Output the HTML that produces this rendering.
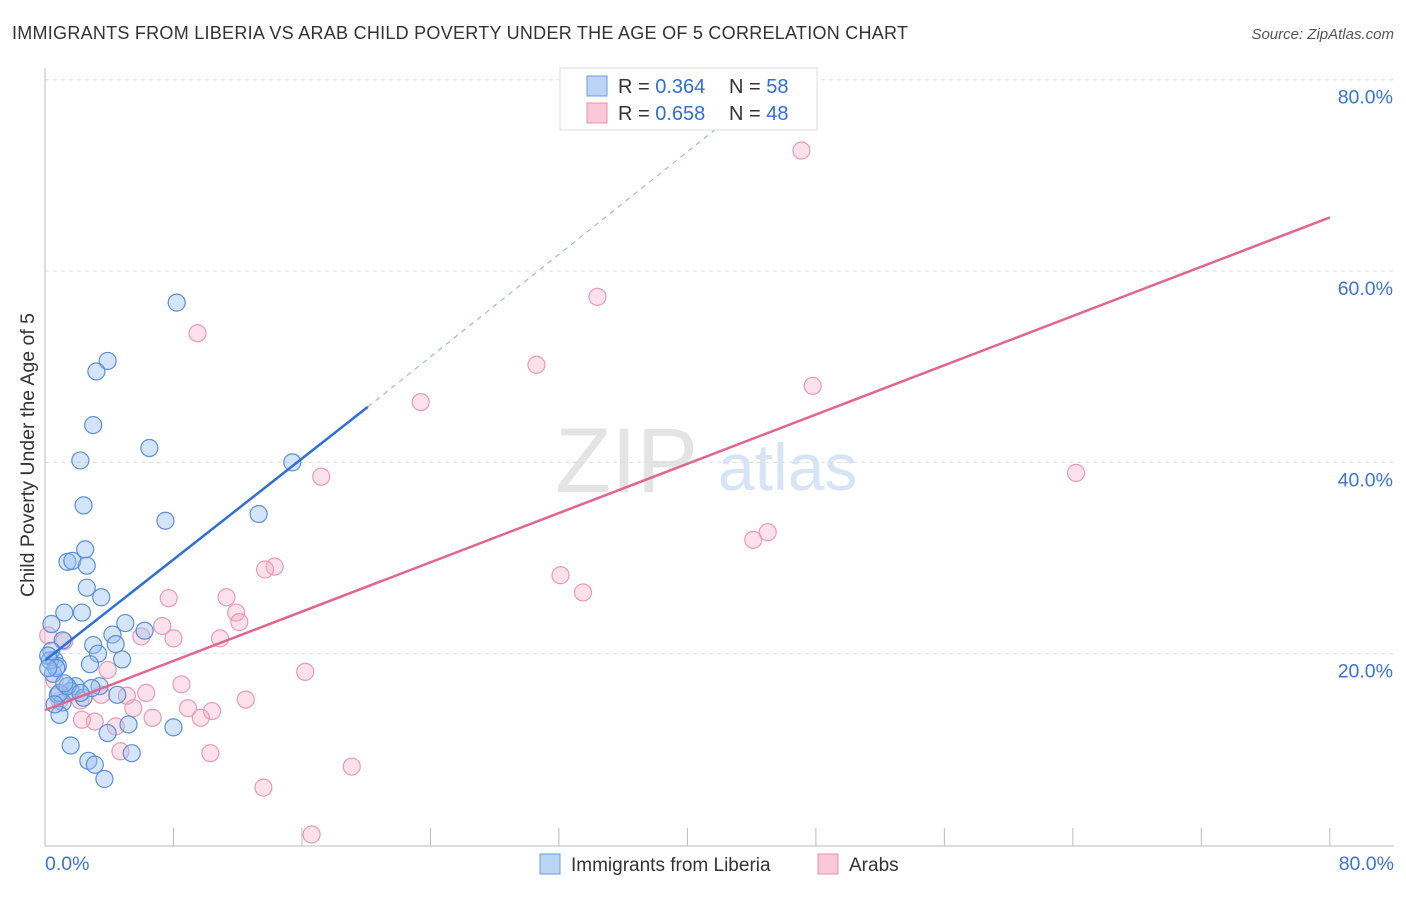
<!DOCTYPE html>
<html><head><meta charset="utf-8"><style>
body{margin:0;background:#fff;font-family:"Liberation Sans",sans-serif;}
svg text{font-family:"Liberation Sans",sans-serif;}
</style></head><body>
<svg id="chart" width="1406" height="892">
<text x="12" y="39" font-size="18" fill="#333" textLength="896">IMMIGRANTS FROM LIBERIA VS ARAB CHILD POVERTY UNDER THE AGE OF 5 CORRELATION CHART</text>
<text x="1394" y="39" font-size="15" fill="#555" text-anchor="end" font-style="italic">Source: ZipAtlas.com</text>
<text x="555" y="492" font-size="92" fill="#e4e4e4" font-family="Liberation Serif">ZIP</text>
<text x="718" y="490" font-size="66" fill="#d6e4f5">atlas</text>
<text transform="translate(34,455) rotate(-90)" font-size="19.5" fill="#333" text-anchor="middle">Child Poverty Under the Age of 5</text>
<g id="grid"></g><g id="marks"></g>
<g>
<rect x="560" y="68" width="257" height="62" fill="#fff" stroke="#ddd"/>
<rect x="587" y="76" width="20" height="20" fill="#bcd5f5" stroke="#6a9be0"/>
<rect x="587" y="103" width="20" height="20" fill="#f9c9d8" stroke="#e890ad"/>
<text x="618" y="93" font-size="20" fill="#333">R = <tspan fill="#2f6fd6">0.364</tspan></text>
<text x="729" y="93" font-size="20" fill="#333">N = <tspan fill="#2f6fd6">58</tspan></text>
<text x="618" y="120" font-size="20" fill="#333">R = <tspan fill="#2f6fd6">0.658</tspan></text>
<text x="729" y="120" font-size="20" fill="#333">N = <tspan fill="#2f6fd6">48</tspan></text>
</g>
<g>
<rect x="540" y="854" width="20" height="20" fill="#bcd5f5" stroke="#6a9be0"/>
<text x="571" y="871" font-size="19" fill="#333">Immigrants from Liberia</text>
<rect x="818" y="854" width="20" height="20" fill="#f9c9d8" stroke="#e890ad"/>
<text x="849" y="871" font-size="19" fill="#333">Arabs</text>
</g>
</svg>
<script>
const xTicks=[0,8,16,24,32,40,48,56,64,72,80];
const yTicks=[20,40,60,80];
const blueX=[8.2,3.9,3.2,3.0,6.5,2.2,2.4,7.5,13.3,15.4,2.5,1.4,1.7,2.6,2.6,3.5,1.2,2.3,0.4,5.0,4.2,6.2,1.1,3.0,4.4,3.3,0.4,0.6,0.8,4.8,2.8,0.5,1.9,3.4,1.6,0.8,4.5,2.4,1.1,0.9,5.2,8.0,3.9,1.6,5.4,2.7,3.1,3.7,0.3,0.2,0.9,1.4,2.9,0.7,0.2,2.2,1.2,0.6];
const blueY=[56.7,50.6,49.5,43.9,41.5,40.2,35.5,33.9,34.6,40.0,30.9,29.6,29.7,29.2,26.9,25.9,24.3,24.3,23.1,23.2,22.0,22.4,21.4,20.9,21.0,20.0,20.3,19.3,18.7,19.4,18.9,17.9,16.6,16.6,16.1,15.7,15.7,15.4,14.9,13.6,12.6,12.3,11.7,10.4,9.6,8.8,8.4,6.9,19.3,19.8,15.9,16.6,16.4,18.5,18.5,15.9,16.9,14.7];
const pinkX=[47.1,34.4,9.5,30.6,47.8,23.4,64.2,17.2,45.0,44.1,14.3,13.7,32.1,33.5,7.7,11.3,11.9,12.1,7.3,8.0,6.0,10.9,0.2,1.2,3.9,16.2,8.5,12.5,6.3,5.1,3.5,8.9,5.5,10.4,9.7,6.7,2.3,3.1,4.4,4.7,10.3,19.1,13.6,16.6,1.6,0.9,2.2,0.6];
const pinkY=[72.6,57.3,53.5,50.2,48.0,46.3,38.9,38.5,32.7,31.9,29.1,28.8,28.2,26.4,25.8,25.9,24.3,23.3,22.9,21.6,21.8,21.6,21.9,21.3,18.3,18.1,16.8,15.2,15.9,15.6,15.7,14.3,14.3,14.0,13.3,13.3,13.1,12.9,12.4,9.8,9.6,8.2,6.0,1.1,16.1,15.1,15.1,17.2];
const blueTrend=[0,19.3,20.1,45.8,44.5,78.5];
const pinkTrend=[0,14.1,80,65.6];
const X=v=>45+v*16.06, Y=v=>845-v*9.566;
const NS='http://www.w3.org/2000/svg';
const grid=document.getElementById('grid'),marks=document.getElementById('marks');
function mk(tag,attrs,parent){const e=document.createElementNS(NS,tag);for(const k in attrs)e.setAttribute(k,attrs[k]);parent.appendChild(e);return e;}
yTicks.forEach(t=>{
 const l=mk('line',{x1:45,x2:1394,y1:Y(t),y2:Y(t),stroke:'#ddd','stroke-dasharray':'4,4'},grid);
 
 
 const tx=mk('text',{x:1393,y:Y(t)+24,'font-size':19.5,fill:'#3b74d4','text-anchor':'end'},grid);tx.textContent=t.toFixed(1)+'%';
 
 
});
mk('line',{x1:45,x2:45,y1:68,y2:846,stroke:'#bbb'},grid);
mk('line',{x1:45,x2:1394,y1:846,y2:846,stroke:'#bbb'},grid);
xTicks.forEach(t=>{if(t>0){const l=mk('line',{x1:X(t),x2:X(t),y1:828,y2:846,stroke:'#bbb'},grid);
 
 }});
[[0,'start',45],[80,'end',1394]].forEach(([v,a,px])=>{const tx=mk('text',{x:px,y:870,'font-size':19.5,fill:'#3b74d4','text-anchor':a},grid);tx.textContent=v.toFixed(1)+'%';
 
 });
pinkX.forEach((v,i)=>{const c=mk('circle',{cx:X(v),cy:Y(pinkY[i]),r:8.5,fill:'rgba(246,170,196,0.35)',stroke:'#e99ab5','stroke-width':1.2},marks);
 
 });
blueX.forEach((v,i)=>{const c=mk('circle',{cx:X(v),cy:Y(blueY[i]),r:8.5,fill:'rgba(150,190,240,0.4)',stroke:'#5a8fdc','stroke-width':1.2},marks);
 
 });
const bl=mk('line',{x1:X(blueTrend[0]),y1:Y(blueTrend[1]),x2:X(blueTrend[2]),y2:Y(blueTrend[3]),stroke:'#2f6fd6','stroke-width':2.5},marks);


const bd=mk('line',{x1:X(blueTrend[2]),y1:Y(blueTrend[3]),x2:X(blueTrend[4]),y2:Y(blueTrend[5]),stroke:'#9bb9e6','stroke-width':1.2,'stroke-dasharray':'5,5'},marks);


const pl=mk('line',{x1:X(pinkTrend[0]),y1:Y(pinkTrend[1]),x2:X(pinkTrend[2]),y2:Y(pinkTrend[3]),stroke:'#e4648f','stroke-width':2.5},marks);


</script>
</body></html>
